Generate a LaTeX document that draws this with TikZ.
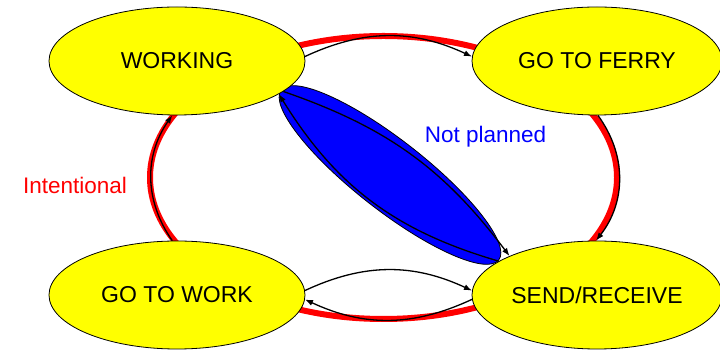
\documentclass[tikz,border=0pt]{standalone}
\usepackage{fontspec}
\setmainfont{Liberation Sans}
\usetikzlibrary{arrows.meta,shapes.geometric}
\definecolor{stateyellow}{RGB}{255,255,0}
\definecolor{ringred}{RGB}{255,0,0}
\definecolor{planblue}{RGB}{0,0,255}
\begin{document}
\begin{tikzpicture}[x=1pt,y=1pt,
  state/.style={ellipse,draw=black,line width=0.8pt,fill=stateyellow,
    minimum height=108pt,inner sep=0pt,font=\fontsize{23}{27}\selectfont},
  flow/.style={line width=1.3pt,-{Latex[length=8pt,width=6pt]}},
  tag/.style={font=\fontsize{22.5}{27}\selectfont,anchor=base}]
\useasboundingbox (0,0) rectangle (720,350);
\fill[white] (0,0) rectangle (720,350);

% the intentional cycle, drawn as a thick red ring behind the states
\draw[ringred,line width=6pt] (383.5,172.5) ellipse [x radius=233.5,y radius=141.5];

% the unplanned shortcut between WORKING and SEND/RECEIVE
\draw[fill=planblue,line width=0.8pt,rotate around={-38:(390,175)}]
  (390,175) ellipse [x radius=138,y radius=35];

% states
\node[state,minimum width=256pt] (working) at (177,289) {WORKING};
\node[state,minimum width=250pt] (ferry)   at (597,289) {GO TO FERRY};
\node[state,minimum width=256pt] (gowork)  at (177,55)  {GO TO WORK};
\node[state,minimum width=250pt] (send)    at (597,55)  {SEND/RECEIVE};

% transitions
\draw[flow] (working.2) to[out=25,in=155] (ferry.178);
\draw[flow] (ferry.-89) to[bend left=37] (send.91);
\draw[flow] (gowork.95) to[bend left=35] (working.-95);
\draw[flow] (gowork.2) to[out=25,in=155] (send.178);
\draw[flow] (send.-178) to[out=-155,in=-25] (gowork.-2);
\draw[flow] (working.-16) to[bend left=17] (send.156);
\draw[flow] (send.161) to[bend left=21] (working.-18);

% labels
\node[tag,text=ringred]  (intent)    at (75,156)    {Intentional};
\node[tag,text=planblue] (unplanned) at (485.5,207) {Not planned};
\end{tikzpicture}
\end{document}
